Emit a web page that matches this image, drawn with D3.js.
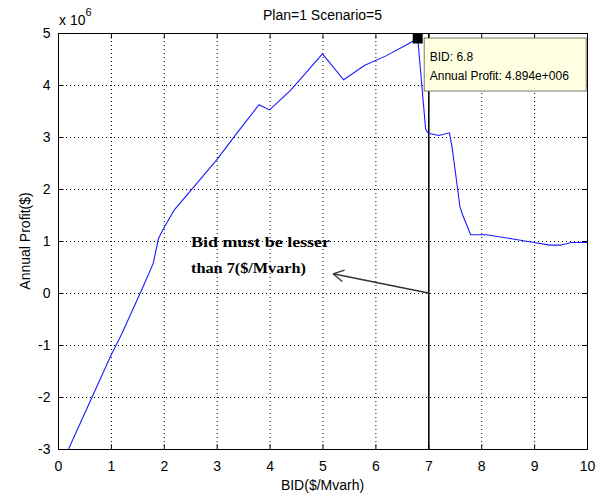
<!DOCTYPE html>
<html>
<head>
<meta charset="utf-8">
<script src="https://cdn.jsdelivr.net/npm/d3@7.9.0/dist/d3.min.js"></script>
<style>
  body { margin: 0; background: #fff; }
  svg { display: block; font-family: "Liberation Sans", Arial, sans-serif; }
  .grid line { stroke: #000; stroke-dasharray: 1,3; stroke-width: 1; }
</style>
</head>
<body>
<svg id="chart" width="605" height="496"></svg>
<script>
// values (profit in units of 1e6 $)
const bid = [0.2, 0.6, 1.0, 1.2, 1.6, 1.8, 1.9, 2.0, 2.2, 2.6, 3.0, 3.4, 3.8, 4.0, 4.4, 5.0, 5.4, 5.8, 6.2, 6.6, 6.8,
  6.95, 7.0, 7.2, 7.4, 7.45, 7.6, 7.65, 7.8, 8.1, 8.6, 9.0, 9.3, 9.5, 9.7, 10.0];
const profit = [-3.0, -2.1, -1.2, -0.8, 0.1, 0.57, 1.05, 1.25, 1.6, 2.08, 2.56, 3.1, 3.62, 3.52, 3.9, 4.6, 4.1, 4.38, 4.56, 4.78, 4.894,
  3.15, 3.07, 3.03, 3.08, 2.8, 1.65, 1.5, 1.12, 1.12, 1.04, 0.97, 0.92, 0.92, 0.97, 0.97];
const xTicks = [0, 1, 2, 3, 4, 5, 6, 7, 8, 9, 10];
const yTicks = [-3, -2, -1, 0, 1, 2, 3, 4, 5];
const marked = { bid: 6.8, profit: 4.894 };
const limitBid = 7;

const svg = d3.select('#chart');
const margin = { left: 58, top: 33, right: 18, bottom: 47 };
const W = 605, H = 496;

const x = d3.scaleLinear().domain([0, 10]).range([margin.left, W - margin.right]);
const y = d3.scaleLinear().domain([-3, 5]).range([H - margin.bottom, margin.top]);

// plain hyphen minus like MATLAB
const fmt = (d) => String(d);

// grid
const grid = svg.append('g').attr('class', 'grid');
grid.selectAll('.gx').data(xTicks.slice(1, -1)).join('line')
  .attr('x1', (d) => x(d) + 0.5).attr('x2', (d) => x(d) + 0.5)
  .attr('y1', y(5)).attr('y2', y(-3));
grid.selectAll('.gy').data(yTicks.slice(1, -1)).join('line')
  .attr('y1', (d) => y(d) + 0.5).attr('y2', (d) => y(d) + 0.5)
  .attr('x1', x(0)).attr('x2', x(10));

// axes (MATLAB style: ticks inward on all four sides)
const tick = 5;
const axB = svg.append('g').attr('transform', `translate(0,${y(-3) + 0.5})`)
  .call(d3.axisBottom(x).tickValues(xTicks).tickSize(-tick).tickPadding(12).tickFormat(fmt));
const axT = svg.append('g').attr('transform', `translate(0,${y(5) + 0.5})`)
  .call(d3.axisTop(x).tickValues(xTicks).tickSize(-tick).tickFormat(''));
const axL = svg.append('g').attr('transform', `translate(${x(0) + 0.5},0)`)
  .call(d3.axisLeft(y).tickValues(yTicks).tickSize(-tick).tickPadding(8).tickFormat(fmt));
const axR = svg.append('g').attr('transform', `translate(${x(10) + 0.5},0)`)
  .call(d3.axisRight(y).tickValues(yTicks).tickSize(-tick).tickFormat(''));
[axB, axT, axL, axR].forEach((a) => {
  a.select('.domain').remove();
  a.selectAll('line').attr('stroke', '#000');
  a.selectAll('text').attr('font-size', 14).attr('fill', '#000')
    .attr('font-family', '"Liberation Sans", Arial, sans-serif');
});
svg.append('rect')
  .attr('x', x(0) + 0.5).attr('y', y(5) + 0.5)
  .attr('width', x(10) - x(0)).attr('height', y(-3) - y(5))
  .attr('fill', 'none').attr('stroke', '#000');

// vertical limit line at bid = 7
svg.append('line')
  .attr('x1', x(limitBid) + 0.5).attr('x2', x(limitBid) + 0.5)
  .attr('y1', y(5)).attr('y2', y(-3))
  .attr('stroke', '#000').attr('stroke-width', 1.5);

// profit curve
const pts = bid.map((b, i) => [b, profit[i]]);
svg.append('path')
  .datum(pts)
  .attr('d', d3.line().x((d) => x(d[0])).y((d) => y(d[1])))
  .attr('fill', 'none').attr('stroke', '#1a1aff').attr('stroke-width', 1.1);

// data cursor marker
svg.append('rect')
  .attr('x', x(marked.bid) - 5).attr('y', y(marked.profit) - 5)
  .attr('width', 10).attr('height', 10)
  .attr('fill', '#000');

// data tip
const tip = svg.append('g').attr('transform', `translate(${x(marked.bid) + 6},${y(marked.profit) - 1})`);
tip.append('rect').attr('x', 0.5).attr('y', 0.5).attr('width', 162).attr('height', 53)
  .attr('fill', '#ffffe1').attr('stroke', '#7a7a6a');
tip.append('text').attr('x', 6).attr('y', 23).attr('font-size', 12).text(`BID: ${marked.bid}`);
tip.append('text').attr('x', 6).attr('y', 42).attr('font-size', 12).text('Annual Profit: 4.894e+006');

// annotation arrow
const ax0 = x(limitBid), ay0 = y(0);
const ax1 = x(5.2), ay1 = y(0.37);
svg.append('line').attr('x1', ax0).attr('y1', ay0).attr('x2', ax1).attr('y2', ay1)
  .attr('stroke', '#333').attr('stroke-width', 1.3);
const ang = Math.atan2(ay0 - ay1, ax0 - ax1);
[-0.5, 0.5].forEach((da) => {
  svg.append('line')
    .attr('x1', ax1).attr('y1', ay1)
    .attr('x2', ax1 + 12 * Math.cos(ang + da)).attr('y2', ay1 + 12 * Math.sin(ang + da))
    .attr('stroke', '#333').attr('stroke-width', 1.3);
});

const note = svg.append('g').attr('font-family', '"Liberation Serif", "Times New Roman", serif')
  .attr('font-weight', 'bold').attr('font-size', 14).attr('fill', '#000');
note.append('text').attr('x', 191).attr('y', 247).attr('textLength', 139)
  .attr('lengthAdjust', 'spacingAndGlyphs').text('Bid must be lesser');
note.append('text').attr('x', 191).attr('y', 273).attr('textLength', 115)
  .attr('lengthAdjust', 'spacingAndGlyphs').text('than 7($/Mvarh)');

// titles
svg.append('text').attr('x', (x(0) + x(10)) / 2).attr('y', 20).attr('text-anchor', 'middle')
  .attr('font-size', 14).text('Plan=1 Scenario=5');
const exp = svg.append('text').attr('x', 59).attr('y', 25).attr('font-size', 14);
exp.append('tspan').text('x 10');
exp.append('tspan').attr('dy', -9).attr('font-size', 11).text('6');
svg.append('text').attr('x', (x(0) + x(10)) / 2).attr('y', 490).attr('text-anchor', 'middle')
  .attr('font-size', 14).text('BID($/Mvarh)');
svg.append('text').attr('transform', `translate(30,${(y(5) + y(-3)) / 2}) rotate(-90)`)
  .attr('text-anchor', 'middle').attr('font-size', 14).text('Annual Profit($)');
</script>
</body>
</html>
